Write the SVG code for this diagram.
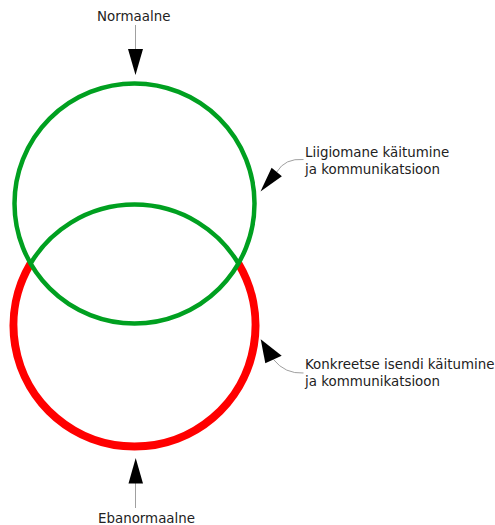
<svg xmlns="http://www.w3.org/2000/svg" width="495" height="525" viewBox="0 0 495 525">
<style>
.lbl{font-family:"DejaVu Sans","Liberation Sans",sans-serif;font-size:13.4px;fill:#222}
.green{fill:none;stroke:#00a020;stroke-width:4.5}
.red{fill:none;stroke:#ff0000;stroke-width:8}
.lead{fill:none;stroke:#a0a0a0;stroke-width:1}
.head{fill:#000}
</style>
<rect width="495" height="525" fill="#fff"/>
<g id="concrete-circle">
<path class="red" d="M30.6,263.5 A121,121 0 1 0 238.4,263.5"/>
</g>
<g id="normal-circle">
<circle class="green" cx="134.5" cy="203.5" r="120"/>
</g>
<g id="concrete-circle-top">
<path class="green" d="M30.6,263.5 A121,121 0 0 1 238.4,263.5"/>
</g>
<g id="connectors">
<line class="lead" x1="135.5" y1="25" x2="135.5" y2="50"/>
<polygon class="head" points="128,49 143,49 135.5,75"/>
<line class="lead" x1="135.5" y1="508" x2="135.5" y2="482"/>
<polygon class="head" points="128.5,483.5 143,483.5 135.7,458"/>
<path class="lead" d="M303.5,159.5 Q285,158 276.75,172"/>
<polygon class="head" points="260.5,191.5 271.6,167.7 281.9,176.3"/>
<path class="lead" d="M303.5,373 Q285,374 273.5,359.5"/>
<polygon class="head" points="260.7,339.3 265.3,363.3 281.7,355.8"/>
</g>
<g id="label-normaalne">
<text class="lbl" x="97" y="21">Normaalne</text>
</g>
<g id="label-ebanormaalne">
<text class="lbl" x="98" y="523">Ebanormaalne</text>
</g>
<g id="label-liigiomane">
<text class="lbl" x="305" y="157">Liigiomane käitumine</text>
<text class="lbl" x="305" y="173.5">ja kommunikatsioon</text>
</g>
<g id="label-konkreetse">
<text class="lbl" x="305" y="369">Konkreetse isendi käitumine</text>
<text class="lbl" x="305" y="385.5">ja kommunikatsioon</text>
</g>
</svg>
